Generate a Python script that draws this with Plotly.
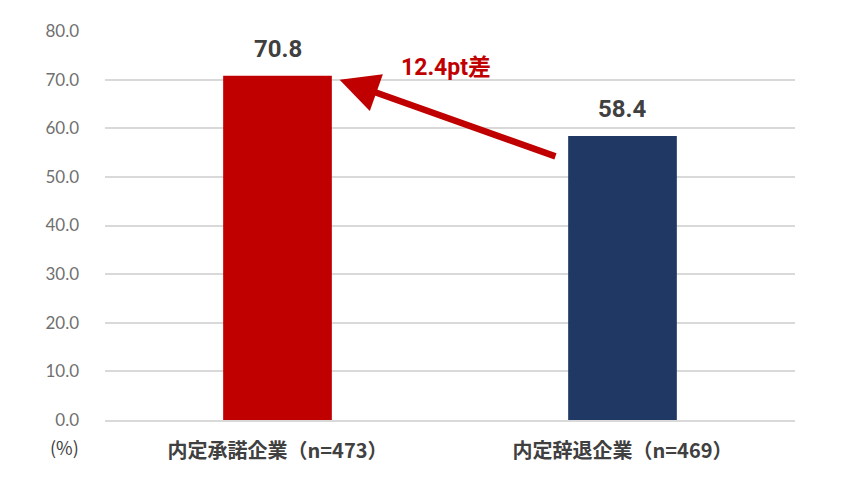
import plotly.graph_objects as go

# data
categories = ["内定承諾企業（n=473）", "内定辞退企業（n=469）"]
values = [70.8, 58.4]
bar_colors = ["#C00000", "#1F3864"]
y_ticks = [0, 10, 20, 30, 40, 50, 60, 70, 80]
diff_label = "12.4pt差"

fig = go.Figure()
fig.add_trace(go.Bar(
    x=categories,
    y=values,
    marker=dict(color=bar_colors, line=dict(width=0)),
    width=0.315,
    hoverinfo="x+y",
))

# value labels above the bars
for c, v in zip(categories, values):
    fig.add_annotation(
        x=c, y=v, xref="x", yref="y",
        text="<b>%.1f</b>" % v, showarrow=False,
        yanchor="middle", yshift=27,
        font=dict(family="Roboto, Noto Sans", size=24, color="#404040"),
    )

# arrow from the right bar towards the left bar
fig.add_annotation(
    x=0.18, y=70.0, ax=0.81, ay=54.1,
    xref="x", yref="y", axref="x", ayref="y",
    text="", showarrow=True,
    arrowhead=2, arrowsize=1.2, arrowwidth=6.5, arrowcolor="#C00000",
    standoff=0,
)
fig.add_annotation(
    x=0.488, y=72.4, xref="x", yref="y",
    text="<b>" + diff_label + "</b>", showarrow=False,
    font=dict(family="Roboto, Noto Sans CJK JP", size=23, color="#C00000"),
)
fig.add_annotation(
    x=-0.0594, y=-0.07, xref="paper", yref="paper",
    text="(%)", showarrow=False, xanchor="center", yanchor="middle",
    font=dict(family="Noto Sans CJK JP", size=18, color="#404040"),
)

fig.update_layout(
    width=846, height=480,
    margin=dict(l=97, r=59, t=23, b=68),
    plot_bgcolor="white", paper_bgcolor="white",
    showlegend=False,
    font=dict(family="Noto Sans CJK JP", color="#595959"),
)
fig.update_xaxes(
    showline=True, linecolor="#D9D9D9", linewidth=2,
    ticks="", ticklabelstandoff=12,
    tickfont=dict(family="Noto Sans CJK JP", size=20, color="#404040", weight="bold"),
)
fig.update_yaxes(
    range=[0, 80], tickvals=y_ticks, ticktext=["%.1f" % t for t in y_ticks],
    showgrid=True, gridcolor="#D9D9D9", gridwidth=1.5, zeroline=False,
    tickfont=dict(family="Lato, Noto Sans", size=17, color="#707070"),
    ticklabelstandoff=25,
)

fig.write_html("out.html")
